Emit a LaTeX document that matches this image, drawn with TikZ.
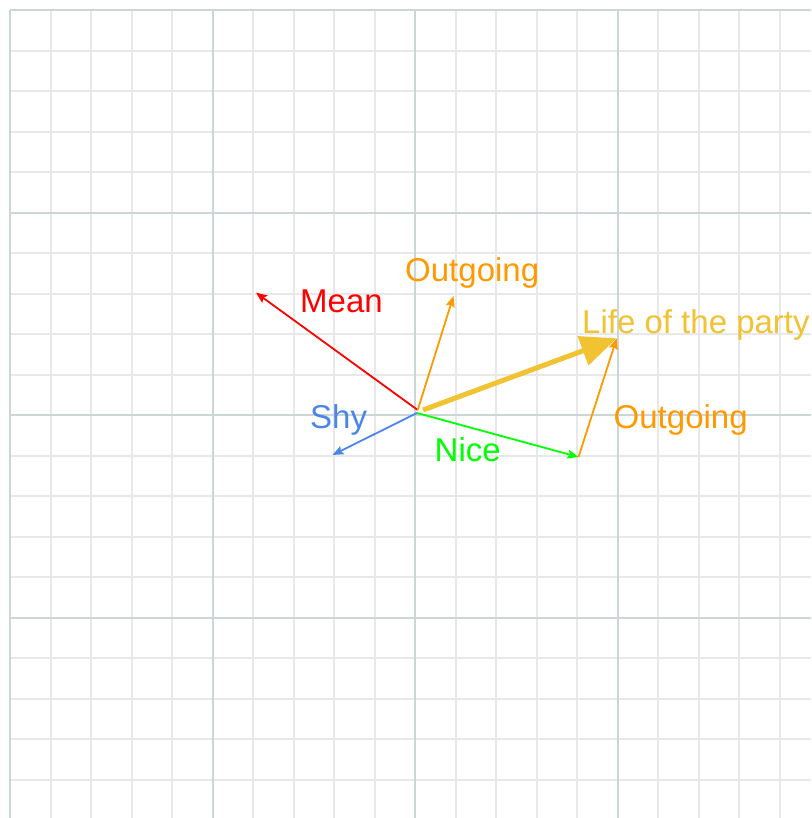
\documentclass[tikz,border=0pt]{standalone}
\usepackage{fontspec}
\setmainfont{Liberation Sans}
\usetikzlibrary{arrows.meta}
\definecolor{gridminor}{HTML}{E8E8E8}
\definecolor{gridmajor}{HTML}{CCD6D6}
\definecolor{cred}{HTML}{FF0000}
\definecolor{corange}{HTML}{FF9900}
\definecolor{cyellow}{HTML}{F1C232}
\definecolor{cblue}{HTML}{4A86E8}
\definecolor{cgreen}{HTML}{00FF00}
\tikzset{
  vec/.style={line width=1.8pt,-{Stealth[length=11pt,width=9pt,inset=2pt]}},
  bigvec/.style={line width=5pt,-{Triangle[length=36pt,width=30pt]}},
  lbl/.style={inner sep=0pt,anchor=base west,font=\fontsize{33}{40}\selectfont},
  minorline/.style={gridminor,line width=2pt},
  majorline/.style={gridmajor,line width=2pt},
}
\begin{document}
\begin{tikzpicture}[x=1pt,y=-1pt]
\useasboundingbox (0,0) rectangle (811,818);
\fill[white] (0,0) rectangle (811,818);
% minor grid
\foreach \k in {1,2,3,4,6,7,8,9,11,12,13,14,16,17,18,19}{
  \pgfmathsetmacro{\p}{round(10+40.5*\k)}
  \draw[minorline] (\p,10) -- (\p,818);
  \draw[minorline] (10,\p) -- (811,\p);
}
% major grid
\foreach \k in {0,5,10,15}{
  \pgfmathsetmacro{\p}{round(10+40.5*\k)}
  \draw[majorline] (\p,10) -- (\p,818);
  \draw[majorline] (10,\p) -- (811,\p);
}
% coordinates
\coordinate (o) at (417,413);
\coordinate (oup) at (417.7,410);
\coordinate (oyel) at (423,410);
\coordinate (mean) at (256,292.7);
\coordinate (out1) at (453.5,296);
\coordinate (shy) at (332.5,455);
\coordinate (nice) at (578.5,457);
\coordinate (life) at (616.7,338.3);
% vectors
\draw[vec,cred] (oup) -- (mean);
\draw[vec,corange] (oup) -- (out1);
\draw[vec,cblue] (o) -- (shy);
\draw[vec,cgreen] (o) -- (nice);
\draw[vec,corange] (nice) -- (life);
\draw[bigvec,cyellow] (oyel) -- (life);
% labels
\node[lbl,text=cred] (lmean) at (300,312) {Mean};
\node[lbl,text=corange] (lout1) at (405,281) {Outgoing};
\node[lbl,text=cyellow] (llife) at (582,333.3) {Life of the party};
\node[lbl,text=corange] (lout2) at (613.5,428.3) {Outgoing};
\node[lbl,text=cblue] (lshy) at (310,428.3) {Shy};
\node[lbl,text=cgreen] (lnice) at (434.5,461) {Nice};
\end{tikzpicture}
\end{document}
